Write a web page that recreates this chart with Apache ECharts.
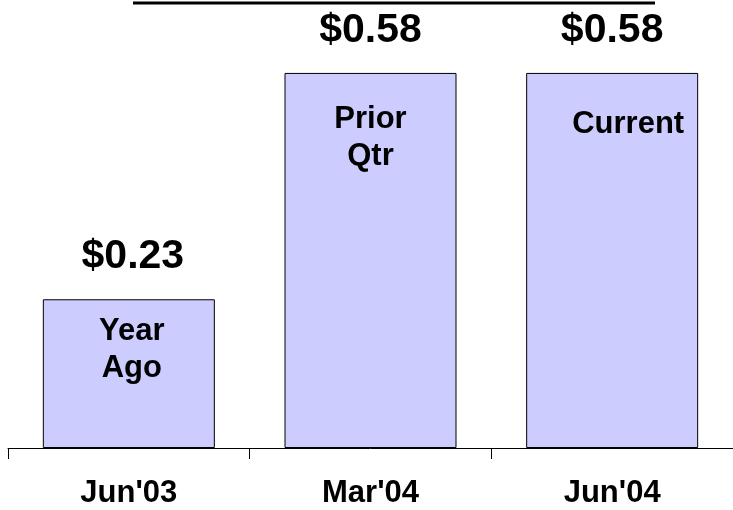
<!DOCTYPE html>
<html>
<head>
<meta charset="utf-8">
<script src="https://cdn.jsdelivr.net/npm/echarts@6/dist/echarts.min.js"></script>
<style>html,body{margin:0;padding:0;background:#fff}#c{width:733px;height:510px}</style>
</head>
<body>
<div id="c"></div>
<script>
const categories = ["Jun'03", "Mar'04", "Jun'04"];
const values = [0.23, 0.58, 0.58];
const valueLabels = ["$0.23", "$0.58", "$0.58"];
const innerLabels = ["Year\nAgo", "Prior\nQtr", "Current"];

const FONT = 'Arial, "Liberation Sans", sans-serif';
const innerPos = [
  { distance: 14, offset: [3, 0] },
  { distance: 28, offset: [0, 0] },
  { distance: 33, offset: [16, 0] }
];
const valueOffsets = [[4, 0], [0, 0], [0, 0]];

const chart = echarts.init(document.getElementById('c'));
chart.setOption({
  animation: false,
  grid: { left: 8, width: 728, top: 60, bottom: 62, containLabel: false },
  xAxis: {
    type: 'category',
    data: categories,
    axisLine: { show: true, lineStyle: { color: '#000', width: 1 } },
    axisTick: { show: true, length: 11, alignWithLabel: false, lineStyle: { color: '#000' } },
    axisLabel: { margin: 30, fontSize: 31, fontWeight: 'bold', color: '#000', fontFamily: FONT }
  },
  yAxis: { type: 'value', min: 0, max: 0.6, show: false, splitLine: { show: false } },
  series: [
    {
      type: 'bar',
      barWidth: 172,
      data: values.map((v, i) => ({
        value: v,
        label: {
          show: true,
          position: 'insideTop',
          distance: innerPos[i].distance,
          offset: innerPos[i].offset,
          formatter: innerLabels[i],
          fontSize: 31,
          lineHeight: 37,
          fontWeight: 'bold',
          color: '#000',
          fontFamily: FONT
        }
      })),
      itemStyle: { color: '#CCCCFF', borderColor: '#000', borderWidth: 1 }
    },
    {
      type: 'bar',
      barWidth: 172,
      barGap: '-100%',
      silent: true,
      data: values.map((v, i) => ({
        value: v,
        label: {
          show: true,
          position: 'top',
          distance: 22,
          offset: valueOffsets[i],
          formatter: valueLabels[i],
          fontSize: 41,
          lineHeight: 41,
          fontWeight: 'bold',
          color: '#000',
          fontFamily: FONT
        }
      })),
      itemStyle: { color: 'rgba(0,0,0,0)', borderWidth: 0 }
    }
  ],
  graphic: [
    { type: 'line', shape: { x1: 133, y1: 3, x2: 655, y2: 3 }, style: { stroke: '#000', lineWidth: 3 } }
  ]
});
</script>
</body>
</html>
